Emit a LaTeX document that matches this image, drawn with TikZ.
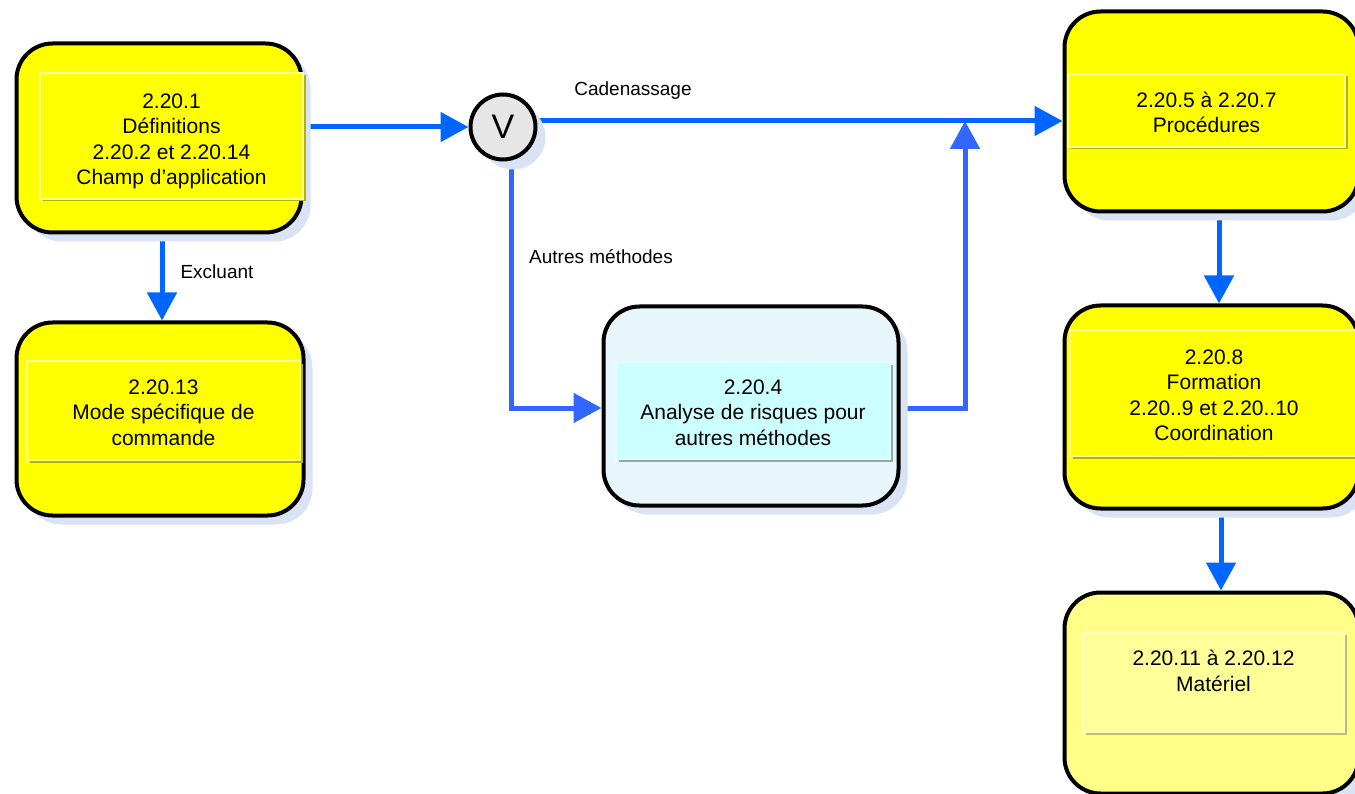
\documentclass[tikz,border=0pt]{standalone}
\usepackage{fontspec}
\setmainfont{Liberation Sans}
\usetikzlibrary{arrows.meta,shadows,backgrounds}
\definecolor{cblue}{RGB}{0,102,255}
\definecolor{cbluetwo}{RGB}{51,102,255}
\definecolor{yel}{RGB}{255,255,0}
\definecolor{yelpale}{RGB}{255,255,136}
\definecolor{yelpalein}{RGB}{255,255,153}
\definecolor{yellight}{RGB}{255,255,150}
\definecolor{anafill}{RGB}{230,246,251}
\definecolor{anainfill}{RGB}{204,255,255}
\definecolor{anaedge}{RGB}{220,255,255}
\definecolor{shad}{RGB}{218,227,243}
\definecolor{olivesh}{RGB}{179,179,0}
\definecolor{olivepale}{RGB}{190,190,110}
\definecolor{grayedge}{RGB}{150,170,170}
\definecolor{vfill}{RGB}{230,230,230}
\newcommand\txtdown[1]{\rule{0pt}{#1}}
\begin{document}
\begin{tikzpicture}[x=1pt,y=-1pt,
  outerbox/.style={draw=black, line width=4pt, rounded corners=36pt,
    drop shadow={shadow xshift=9pt, shadow yshift=-9pt, fill=shad, opacity=1}},
  innerbox/.style={line width=1.2pt, align=center, inner sep=0pt,
    font=\fontsize{21}{25.5}\selectfont},
  yshadow/.style={drop shadow={shadow xshift=2.5pt, shadow yshift=-2.5pt, fill=#1, opacity=1}},
  conn/.style={draw=cblue, line width=5pt},
  tip/.style={-{Triangle[length=28pt,width=29pt]}},
  lab/.style={font=\fontsize{19}{22}\selectfont, inner sep=0pt}
]
\useasboundingbox (0,0) rectangle (1355,794);
\begin{scope}
\clip (0,0) rectangle (1355,794);
% outer boxes
\node[outerbox, fill=yel, minimum width=285pt, minimum height=189pt] (b1) at (159,138) {};
\node[outerbox, fill=yel, minimum width=287pt, minimum height=193pt] (b2) at (160,419) {};
\node[outerbox, fill=anafill, minimum width=295pt, minimum height=199pt] (ana) at (751,406) {};
\node[outerbox, fill=yel, minimum width=294pt, minimum height=200pt] (proc) at (1211.5,111.5) {};
\node[outerbox, fill=yel, minimum width=294pt, minimum height=203pt] (form) at (1211.5,407) {};
\node[outerbox, fill=yelpale, minimum width=294pt, minimum height=201pt] (mat) at (1211.5,693) {};
% inner boxes with texts
\node[innerbox, fill=yel, draw=yellight, yshadow=olivesh, minimum width=263pt, minimum height=126pt] (b1in) at (171.5,136)
  {\txtdown{25pt}2.20.1\\Définitions\\2.20.2 et 2.20.14\\Champ d’application};
\node[innerbox, fill=yel, draw=yellight, yshadow=olivesh, minimum width=273pt, minimum height=99pt] (b2in) at (163.5,410.5)
  {\txtdown{19pt}2.20.13\\Mode spécifique de\\commande};
\node[innerbox, fill=anainfill, draw=anaedge, yshadow=grayedge, minimum width=274pt, minimum height=97pt] (anain) at (753,410.5)
  {\txtdown{19pt}2.20.4\\Analyse de risques pour\\autres méthodes};
\node[innerbox, fill=yel, draw=yellight, yshadow=olivesh, minimum width=277pt, minimum height=73pt] (procin) at (1206.5,110.5)
  {\txtdown{19pt}2.20.5 à 2.20.7\\Procédures};
\node[innerbox, fill=yel, draw=yellight, yshadow=olivesh, minimum width=288pt, minimum height=126pt] (formin) at (1214,393)
  {\txtdown{19pt}2.20.8\\Formation\\2.20..9 et 2.20..10\\Coordination};
\node[innerbox, fill=yelpalein, draw=yelpalein!60!white, yshadow=olivepale, minimum width=261pt, minimum height=100pt] (matin) at (1213.5,682)
  {\txtdown{26pt}2.20.11 à 2.20.12\\Matériel\\\strut};
% V circle
\node[circle, draw=black, line width=4pt, fill=vfill, minimum size=65pt, inner sep=0pt,
  font=\fontsize{34}{34}\selectfont,
  drop shadow={shadow xshift=10pt, shadow yshift=-10pt, fill=shad, opacity=1}] (v) at (503,127) {V};
\end{scope}
% labels
\node[lab] (lcad) at (633,91) {Cadenassage};
\node[lab] (laut) at (601,257) {Autres méthodes};
\node[lab] (lexc) at (217,272) {Excluant};
\coordinate (j) at (965,121);
% connectors
\begin{scope}[on background layer]
\draw[conn, tip] (b1.east |- v.west) -- (v.west);
\draw[conn, tip] ([yshift=6pt]v.east) -- ([yshift=6pt]v.east -| proc.west);
\draw[conn, draw=cbluetwo, tip] ([xshift=8pt,yshift=-4pt]v.south) |- ([yshift=-2pt]ana.west);
\draw[conn, draw=cbluetwo, tip] ([yshift=-2pt]ana.east) -| (j);
\draw[conn, tip] ([xshift=3pt]b1.south) -- ([xshift=3pt]b1.south |- b2.north);
\draw[conn, tip] ([xshift=7.5pt]proc.south) -- ([xshift=7.5pt]proc.south |- form.north);
\draw[conn, tip] ([xshift=9.5pt]form.south) -- ([xshift=9.5pt]form.south |- mat.north);
\end{scope}
\end{tikzpicture}
\end{document}
